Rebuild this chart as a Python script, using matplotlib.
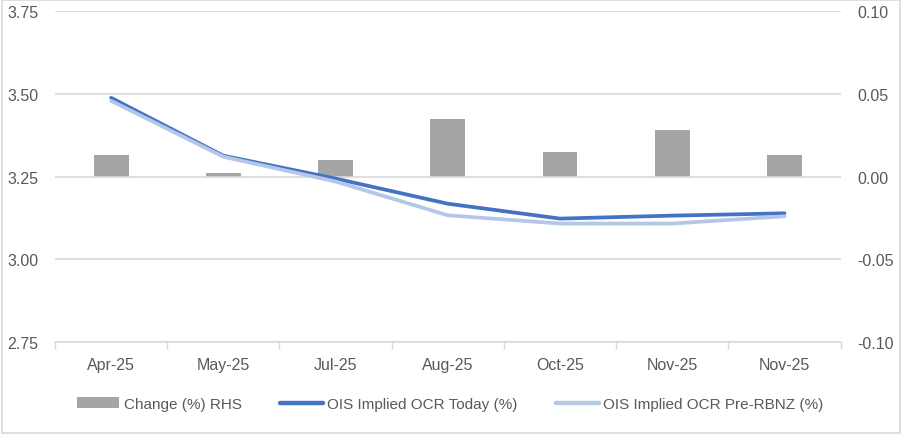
import matplotlib
matplotlib.use("Agg")
import matplotlib.pyplot as plt
from matplotlib.patches import Rectangle, Patch
from matplotlib.lines import Line2D
import numpy as np

categories = ["Apr-25", "May-25", "Jul-25", "Aug-25", "Oct-25", "Nov-25", "Nov-25"]
change_rhs = [0.013, 0.002, 0.010, 0.035, 0.015, 0.028, 0.013]
ocr_today = [3.488, 3.313, 3.244, 3.168, 3.123, 3.132, 3.139]
ocr_pre = [3.479, 3.310, 3.235, 3.133, 3.108, 3.108, 3.130]
left_ticks = [2.75, 3.00, 3.25, 3.50, 3.75]
right_ticks = [-0.10, -0.05, 0.00, 0.05, 0.10]

plt.rcParams['font.family'] = ['Liberation Sans', 'DejaVu Sans']
txt = '#595959'
grid = '#D9D9D9'
fs = 11.5

fig = plt.figure(figsize=(9.02, 4.35), dpi=100)
fig.patches.append(Rectangle((0.002, 0.003), 0.996, 0.994, transform=fig.transFigure,
                             fill=False, edgecolor='#D9D9D9', linewidth=1.2))
ax1 = fig.add_axes([0.061, 0.2115, 0.871, 0.7605])
ax2 = ax1.twinx()

x = np.arange(len(categories))
ax2.bar(x, change_rhs, width=0.31, color='#A5A5A5', zorder=2)
ax2.set_ylim(-0.10, 0.10)
ax2.set_yticks(right_ticks)
ax2.set_yticklabels([f"{v:.2f}" for v in right_ticks])

ax1.set_zorder(ax2.get_zorder() + 1)
ax1.patch.set_visible(False)
ax1.plot(x, ocr_today, color='#4472C4', linewidth=2.7, solid_capstyle='round', zorder=3)
ax1.plot(x, ocr_pre, color='#B4C7E7', linewidth=2.7, solid_capstyle='round', zorder=4)
ax1.set_ylim(2.75, 3.75)
ax1.set_yticks(left_ticks)
ax1.set_yticklabels([f"{v:.2f}" for v in left_ticks])
ax1.set_xlim(-0.5, len(categories) - 0.5)
ax1.set_xticks(x)
ax1.set_xticklabels(categories)
ax1.set_xticks(np.arange(-0.5, len(categories)), minor=True)
ax1.tick_params(axis='x', which='major', length=0, pad=11, labelsize=fs, labelcolor=txt)
ax1.tick_params(axis='x', which='minor', length=5, color=grid, width=1)
ax1.tick_params(axis='y', length=0, pad=12, labelsize=fs, labelcolor=txt)
ax2.tick_params(axis='y', length=0, pad=12, labelsize=fs, labelcolor=txt)

ax1.yaxis.grid(True, color=grid, linewidth=1.2)
ax1.set_axisbelow(True)
for a in (ax1, ax2):
    for s in ('top', 'left', 'right', 'bottom'):
        a.spines[s].set_visible(False)
ax1.spines['bottom'].set_visible(True)
ax1.spines['bottom'].set_color(grid)
ax1.spines['bottom'].set_linewidth(1.2)

handles = [Patch(facecolor='#A5A5A5', edgecolor='none'),
           Line2D([0], [0], color='#4472C4', linewidth=3.2, solid_capstyle='round'),
           Line2D([0], [0], color='#B4C7E7', linewidth=3.2, solid_capstyle='round')]
labels = ["Change (%) RHS", "OIS Implied OCR Today (%)", "OIS Implied OCR Pre-RBNZ (%)"]
leg = fig.legend(handles, labels, loc='center', bbox_to_anchor=(0.499, 0.069), ncol=3,
                 frameon=False, fontsize=11, handlelength=2.8, handletextpad=0.3,
                 columnspacing=2.5)
for t in leg.get_texts():
    t.set_color(txt)

fig.savefig("out.png", dpi=100)
